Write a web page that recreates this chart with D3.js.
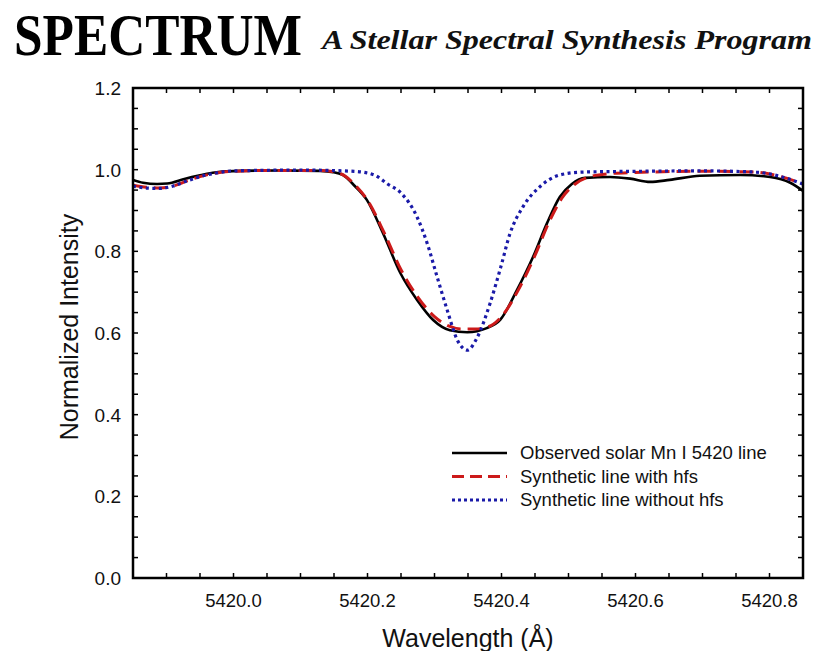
<!DOCTYPE html>
<html><head><meta charset="utf-8">
<script src="https://cdn.jsdelivr.net/npm/d3@7"></script>
<style>body{margin:0;background:#fff;} svg{display:block;}</style>
</head><body><svg id="c" width="817" height="651"></svg>
<script>
const titleText = "SPECTRUM";
const subtitleText = "A Stellar Spectral Synthesis Program";
const xLabel = "Wavelength (Å)";
const yLabel = "Normalized Intensity";
const xTicksMajor = [5420.0, 5420.2, 5420.4, 5420.6, 5420.8];
const yTicksMajor = [0.0, 0.2, 0.4, 0.6, 0.8, 1.0, 1.2];
const seriesNames = ["Observed solar Mn I 5420 line", "Synthetic line with hfs", "Synthetic line without hfs"];

const observedWl = [5419.850,5419.865,5419.886,5419.901,5419.928,5419.950,5419.972,5420.010,5420.069,5420.129,5420.149,5420.163,5420.181,5420.199,5420.223,5420.249,5420.274,5420.298,5420.323,5420.349,5420.378,5420.398,5420.423,5420.447,5420.468,5420.487,5420.505,5420.525,5420.562,5420.592,5420.622,5420.651,5420.696,5420.756,5420.801,5420.831,5420.850];
const observedI = [0.975,0.968,0.965,0.966,0.978,0.986,0.993,0.997,0.998,0.997,0.994,0.987,0.960,0.926,0.845,0.747,0.681,0.632,0.607,0.602,0.612,0.632,0.705,0.786,0.869,0.933,0.965,0.980,0.982,0.978,0.970,0.975,0.985,0.987,0.982,0.968,0.948];

const hfsWl = [5419.850,5419.870,5419.890,5419.910,5419.930,5419.950,5419.975,5420.000,5420.050,5420.130,5420.160,5420.180,5420.200,5420.225,5420.250,5420.275,5420.300,5420.320,5420.340,5420.360,5420.380,5420.400,5420.425,5420.450,5420.470,5420.490,5420.510,5420.530,5420.560,5420.600,5420.700,5420.780,5420.810,5420.850];
const hfsI = [0.962,0.957,0.955,0.960,0.972,0.983,0.992,0.996,0.998,0.998,0.990,0.965,0.925,0.845,0.755,0.688,0.640,0.618,0.610,0.610,0.615,0.640,0.705,0.790,0.868,0.930,0.965,0.982,0.990,0.993,0.996,0.994,0.986,0.965];

const noHfsWl = [5419.850,5419.870,5419.890,5419.910,5419.930,5419.950,5419.975,5420.000,5420.100,5420.180,5420.210,5420.230,5420.250,5420.274,5420.289,5420.304,5420.319,5420.334,5420.349,5420.364,5420.383,5420.399,5420.413,5420.432,5420.457,5420.487,5420.520,5420.600,5420.700,5420.780,5420.810,5420.850];
const noHfsI = [0.960,0.955,0.954,0.960,0.972,0.983,0.992,0.997,0.999,0.996,0.987,0.965,0.943,0.884,0.820,0.737,0.656,0.583,0.558,0.590,0.673,0.762,0.845,0.909,0.958,0.987,0.994,0.996,0.997,0.994,0.986,0.965];

const svg = d3.select("#c");
const L = 133, R = 803, T = 88, B = 578;
const x = d3.scaleLinear().domain([5419.85, 5420.85]).range([L, R]);
const y = d3.scaleLinear().domain([0, 1.2]).range([B, T]);

svg.append("text").attr("x", 14).attr("y", 55)
  .attr("font-family", "'Liberation Serif', 'Times New Roman', serif")
  .attr("font-weight", "bold").attr("font-size", 60)
  .attr("textLength", 288).attr("lengthAdjust", "spacingAndGlyphs")
  .attr("fill", "#000").text(titleText);
svg.append("text").attr("x", 322).attr("y", 49)
  .attr("font-family", "'Liberation Serif', 'Times New Roman', serif")
  .attr("font-weight", "bold").attr("font-style", "italic").attr("font-size", 28)
  .attr("textLength", 490).attr("lengthAdjust", "spacingAndGlyphs")
  .attr("fill", "#111").text(subtitleText);

const minorX = d3.range(0, 20).map(i => 5419.85 + 0.05 * i).filter(v => v > 5419.851 && v < 5420.849);
const minorY = d3.range(1, 24).map(i => i * 0.05);

const g = svg.append("g");
const tl = 5;
minorX.forEach(v => {
  g.append("line").attr("x1", x(v)).attr("x2", x(v)).attr("y1", B).attr("y2", B - tl).attr("stroke", "#000").attr("stroke-width", 1.5);
  g.append("line").attr("x1", x(v)).attr("x2", x(v)).attr("y1", T).attr("y2", T + tl).attr("stroke", "#000").attr("stroke-width", 1.5);
});
minorY.forEach(v => {
  g.append("line").attr("x1", L).attr("x2", L + tl).attr("y1", y(v)).attr("y2", y(v)).attr("stroke", "#000").attr("stroke-width", 1.5);
  g.append("line").attr("x1", R).attr("x2", R - tl).attr("y1", y(v)).attr("y2", y(v)).attr("stroke", "#000").attr("stroke-width", 1.5);
});

const sans = "'Liberation Sans', Arial, sans-serif";
xTicksMajor.forEach(v => {
  svg.append("text").attr("x", x(v)).attr("y", 607).attr("text-anchor", "middle")
    .attr("font-family", sans).attr("font-size", 18.5).attr("fill", "#111").text(v.toFixed(1));
});
yTicksMajor.forEach(v => {
  svg.append("text").attr("x", 121).attr("y", y(v) + 7).attr("text-anchor", "end")
    .attr("font-family", sans).attr("font-size", 19).attr("fill", "#111").text(v.toFixed(1));
});

svg.append("text").attr("x", 468).attr("y", 647).attr("text-anchor", "middle")
  .attr("font-family", sans).attr("font-size", 25).attr("fill", "#111").text(xLabel);
svg.append("text").attr("transform", "translate(78,327) rotate(-90)").attr("text-anchor", "middle")
  .attr("font-family", sans).attr("font-size", 25).attr("fill", "#111").text(yLabel);

svg.append("clipPath").attr("id", "clp").append("rect")
  .attr("x", L).attr("y", T).attr("width", R - L).attr("height", B - T);
const line = d3.line().x(d => x(d[0])).y(d => y(d[1])).curve(d3.curveMonotoneX);
const cg = svg.append("g").attr("clip-path", "url(#clp)");
cg.append("path").datum(d3.zip(observedWl, observedI)).attr("d", line)
  .attr("fill", "none").attr("stroke", "#000").attr("stroke-width", 2.6);
cg.append("path").datum(d3.zip(hfsWl, hfsI)).attr("d", line)
  .attr("fill", "none").attr("stroke", "#cc1a1a").attr("stroke-width", 3).attr("stroke-dasharray", "14,7");
cg.append("path").datum(d3.zip(noHfsWl, noHfsI)).attr("d", line)
  .attr("fill", "none").attr("stroke", "#1a1aa8").attr("stroke-width", 3.2).attr("stroke-dasharray", "3,3.5");

svg.append("rect").attr("x", L).attr("y", T).attr("width", R - L).attr("height", B - T)
  .attr("fill", "none").attr("stroke", "#000").attr("stroke-width", 2.5);

const styles = [
  {stroke: "#000", w: 2.6, dash: null},
  {stroke: "#cc1a1a", w: 3, dash: "12,6"},
  {stroke: "#1a1aa8", w: 3, dash: "3,3"}
];
seriesNames.forEach((name, i) => {
  const yy = 453 + i * 23.5;
  const ln = svg.append("line").attr("x1", 452).attr("x2", 507).attr("y1", yy).attr("y2", yy)
    .attr("stroke", styles[i].stroke).attr("stroke-width", styles[i].w);
  if (styles[i].dash) ln.attr("stroke-dasharray", styles[i].dash);
  svg.append("text").attr("x", 520).attr("y", yy + 6).attr("font-family", sans)
    .attr("font-size", 18.5).attr("fill", "#111").text(name);
});
</script></body></html>
